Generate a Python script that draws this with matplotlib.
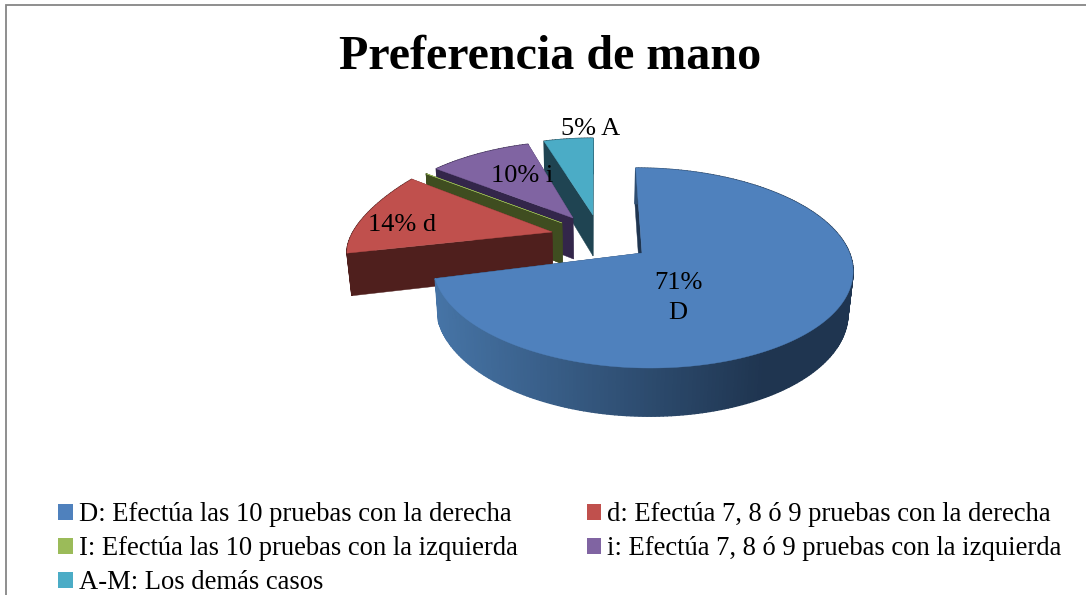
import numpy as np
import matplotlib
matplotlib.use("Agg")
import matplotlib.pyplot as plt
from matplotlib.patches import Patch
from matplotlib.colors import to_rgb

plt.rcParams["font.family"] = ["Liberation Serif", "DejaVu Serif"]

# datos
values = [71, 14, 0.05, 10, 5]
top_colors = ["#4F81BD", "#C0504D", "#9BBB59", "#8064A2", "#4BACC6"]
wall_colors = ["#1F3550", "#4F1F1D", "#3F4D20", "#33264A", "#1F4452"]
legend_labels = [
    "D: Efectúa las 10 pruebas con la derecha",
    "d: Efectúa 7, 8 ó 9 pruebas con la derecha",
    "I: Efectúa las 10 pruebas con la izquierda",
    "i: Efectúa 7, 8 ó 9 pruebas con la izquierda",
    "A-M: Los demás casos",
]
slice_labels = ["71%\nD", "14% d", "", "10% i", "5% A"]
title = "Preferencia de mano"

# vertice de cada porcion en pixeles (pie explotado) y su perspectiva
apex = [(642, 253), (552, 232), (562, 223), (573, 218), (593, 215)]
label_pos = [(678, 298), (402, 225), None, (522, 176), (591, 129)]
ky_list = [0.15, -0.08, 0.25, 0.25, 0.25]
fy_list = [97.75, 86, 96, 96, 96]
kx_list = [0.15, 0.2, 0.27, 0.27, 0.27]
fx_list = [207.5, 199, 200, 200, 200]
VX = 594      # punto de fuga
DEPTH = 41
SHRINK = 0.98


def project(i, ang):
    X, Y = np.sin(ang), np.cos(ang)
    ax0, ay0 = apex[i]
    sx = VX + (ax0 - VX + fx_list[i] * X) / (1 + kx_list[i] * Y)
    sy = ay0 - fy_list[i] * Y / (1 + ky_list[i] * Y)
    return sx, sy


def drop(sx, sy, Y=0.0):
    # cara inferior del sector
    return VX + (np.asarray(sx) - VX) * SHRINK, np.asarray(sy) + DEPTH / (1 + 0.15 * Y)


def mix(c1, c2, t):
    a, b = np.array(to_rgb(c1)), np.array(to_rgb(c2))
    return tuple(a + (b - a) * t)


fig = plt.figure(figsize=(10.86, 5.95), dpi=100)
ax = fig.add_axes([0, 0, 1, 1])
ax.set_xlim(0, 1086)
ax.set_ylim(595, 0)
ax.axis("off")

# marco: solo se ven el lado izquierdo y el superior
ax.plot([6, 6, 1086], [595, 4.5, 4.5], color="#868686", lw=1.3,
        solid_joinstyle="miter")

edges = np.cumsum([0] + values) / sum(values) * 2 * np.pi

# de atras hacia adelante
for i in [4, 3, 2, 1, 0]:
    a0, a1 = edges[i], edges[i + 1]
    n = max(int((a1 - a0) * 60), 4)
    angs = np.linspace(a0, a1, n)
    sx, sy = project(i, angs)
    bx, by = drop(sx, sy, np.cos(angs))
    cx, cy = apex[i]
    bcx, bcy = drop(cx, cy)

    # paredes radiales
    for k in [-1, 0]:
        ax.fill([cx, sx[k], bx[k], bcx], [cy, sy[k], by[k], bcy],
                color=wall_colors[i], lw=0.3, zorder=1)

    # borde exterior
    for j in range(n - 1):
        if i == 0:
            t = np.clip((sx[j] - 435) / 330, 0, 1)
            col = mix("#4674A6", wall_colors[0], t)
        else:
            col = wall_colors[i]
        ax.fill([sx[j], sx[j + 1], bx[j + 1], bx[j]],
                [sy[j], sy[j + 1], by[j + 1], by[j]],
                color=col, ec=col, lw=1.0, zorder=1)

    # cara superior
    ax.fill(np.r_[cx, sx], np.r_[cy, sy], color=top_colors[i], lw=0.3, zorder=1)

for lab, pos in zip(slice_labels, label_pos):
    if pos is not None:
        ax.text(pos[0], pos[1], lab, ha="center", va="center", fontsize=19,
                linespacing=1.42, color="black", zorder=3)

ax.text(550.5, 57, title, ha="center", va="center", fontsize=34.6,
        fontweight="bold", color="black")

# la leyenda llena por columnas: se reordena para leer por filas
order = [0, 2, 4, 1, 3]
handles = [Patch(fc=top_colors[k], ec="none", label=legend_labels[k]) for k in order]
ax.legend(handles=handles, ncol=2, frameon=False, fontsize=19.2,
          loc="upper left", bbox_to_anchor=(58 / 1086, 1 - 502 / 595),
          borderaxespad=0, borderpad=0, handlelength=0.55, handleheight=0.55,
          handletextpad=0.22, columnspacing=2.6, labelspacing=0.34)

fig.savefig("out.png", dpi=100)
